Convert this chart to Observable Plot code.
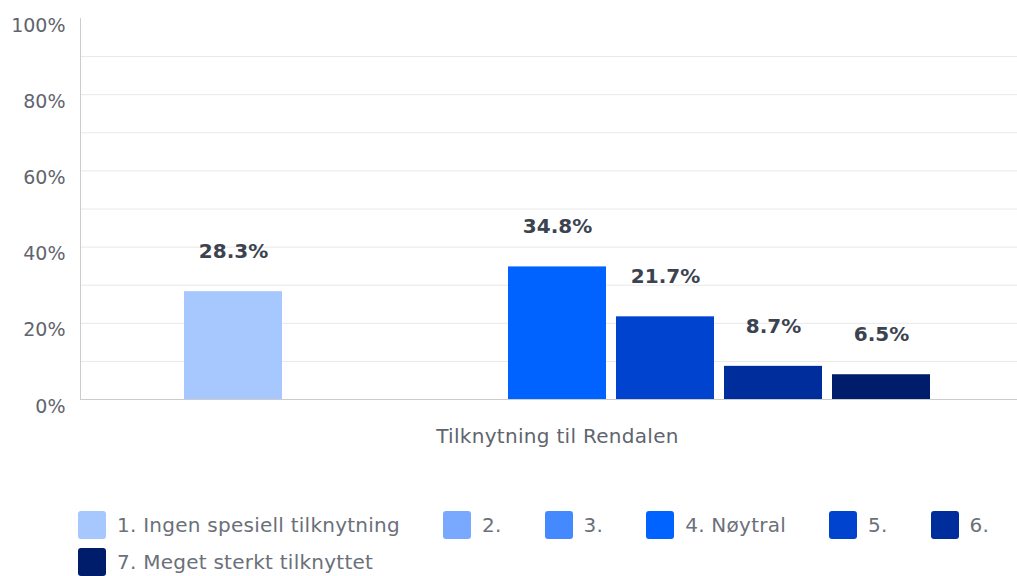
<!DOCTYPE html>
<html>
<head>
<meta charset="utf-8">
<script src="https://cdn.jsdelivr.net/npm/d3@7"></script>
<script src="https://cdn.jsdelivr.net/npm/@observablehq/plot@0.6"></script>
<style>
  html, body { margin: 0; padding: 0; background: #fff; }
  body { width: 1017px; height: 576px; overflow: hidden; font-family: "DejaVu Sans", sans-serif; }
  #legend { display: flex; flex-wrap: wrap; column-gap: 43px; row-gap: 9px; padding-left: 78px; margin-top: 41px; width: 930px; }
  .item { display: flex; align-items: center; height: 28px; }
  .sw { width: 28px; height: 28px; border-radius: 3px; margin-right: 11px; }
  .lab { font-size: 20px; letter-spacing: 0.25px; color: #6b7079; white-space: nowrap; }
  .catlab text { letter-spacing: 0.3px; }
</style>
</head>
<body>
<div id="chart"></div>
<div id="legend"></div>
<script>
const category = "Tilknytning til Rendalen";
const series = ["1. Ingen spesiell tilknytning", "2.", "3.", "4. Nøytral", "5.", "6.", "7. Meget sterkt tilknyttet"];
const values = [28.3, 0, 0, 34.8, 21.7, 8.7, 6.5];
const colors = ["#a6c8ff", "#78a9ff", "#4589ff", "#0062ff", "#0043ce", "#002d9c", "#001d6c"];
const yTicks = [0, 20, 40, 60, 80, 100];
const gridTicks = [10, 20, 30, 40, 50, 60, 70, 80, 90];

const data = series.map((s, i) => ({series: s, value: values[i], category}));
const shown = data.filter(d => d.value > 0);

const chart = Plot.plot({
  width: 1017,
  height: 470,
  marginLeft: 80,
  marginRight: 0,
  marginTop: 18,
  marginBottom: 71,
  style: {fontFamily: "'DejaVu Sans', sans-serif", background: "#fff"},
  x: {domain: series, range: [183, 931], paddingInner: 0.092, paddingOuter: 0, axis: null},
  y: {domain: [0, 100], axis: null},
  color: {domain: series, range: colors},
  marks: [
    Plot.gridY(gridTicks, {stroke: "#e8e8e8", strokeOpacity: 1}),
    Plot.axisY(yTicks, {label: null, tickSize: 0, tickPadding: 15, tickFormat: d => d + "%", dy: 7, fontSize: 19, fill: "#5f656e"}),
    Plot.barY(shown, {x: "series", y: "value", fill: "series"}),
    Plot.text(shown, {x: "series", y: "value", text: d => d.value.toFixed(1) + "%", dy: -40, fontWeight: 700, fontSize: 20, fill: "#3c4350"}),
    Plot.ruleY([0], {stroke: "#cccccc"}),
    Plot.frame({anchor: "left", stroke: "#cccccc"}),
    Plot.text([category], {x: () => series[3], text: d => d, frameAnchor: "bottom", lineAnchor: "middle", dy: 37, fontSize: 20, fill: "#5f656e", className: "catlab"})
  ]
});
document.getElementById("chart").appendChild(chart);

const legend = d3.select("#legend");
series.forEach((s, i) => {
  const it = legend.append("div").attr("class", "item");
  it.append("div").attr("class", "sw").style("background", colors[i]);
  it.append("span").attr("class", "lab").text(s);
});
</script>
</body>
</html>
